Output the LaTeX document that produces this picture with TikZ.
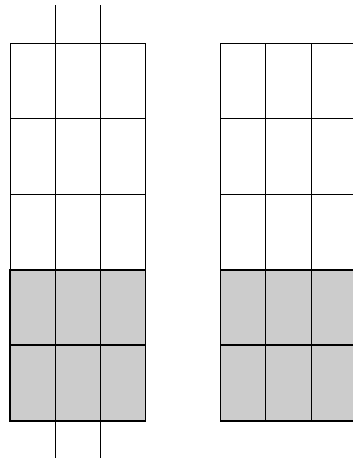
\documentclass[tikz,border=0pt]{standalone}
\begin{document}
\begin{tikzpicture}[x=1pt,y=-1pt,
  thin grid/.style={line width=0.7pt,black},
  thick grid/.style={line width=1.3pt,black},
  shade/.style={fill=black!20}]
\useasboundingbox (0,0) rectangle (353,459);
\clip (0,0) rectangle (353,459);
% ---------- left grid ----------
\fill[shade] (10,270) rectangle (145.5,421);
\draw[thin grid] (10,43) rectangle (145.5,270);
\foreach \y in {118.5,194} \draw[thin grid] (10,\y) -- (145.5,\y);
\draw[thin grid] (55.7,5) -- (55.7,458);
\draw[thin grid] (100.7,5) -- (100.7,458);
\draw[thick grid] (10,270) rectangle (145.5,421);
\draw[thick grid] (10,345) -- (145.5,345);
% ---------- right grid ----------
\fill[shade] (220.7,270) rectangle (360,421);
\draw[thin grid] (220.7,270) -- (220.7,43) -- (360,43);
\foreach \y in {118.5,194} \draw[thin grid] (220.7,\y) -- (360,\y);
\foreach \x in {265.7,311.7} \draw[thin grid] (\x,43) -- (\x,421);
\draw[thick grid] (360,270) -- (220.7,270) -- (220.7,421) -- (360,421);
\draw[thick grid] (220.7,345) -- (360,345);
\end{tikzpicture}
\end{document}
